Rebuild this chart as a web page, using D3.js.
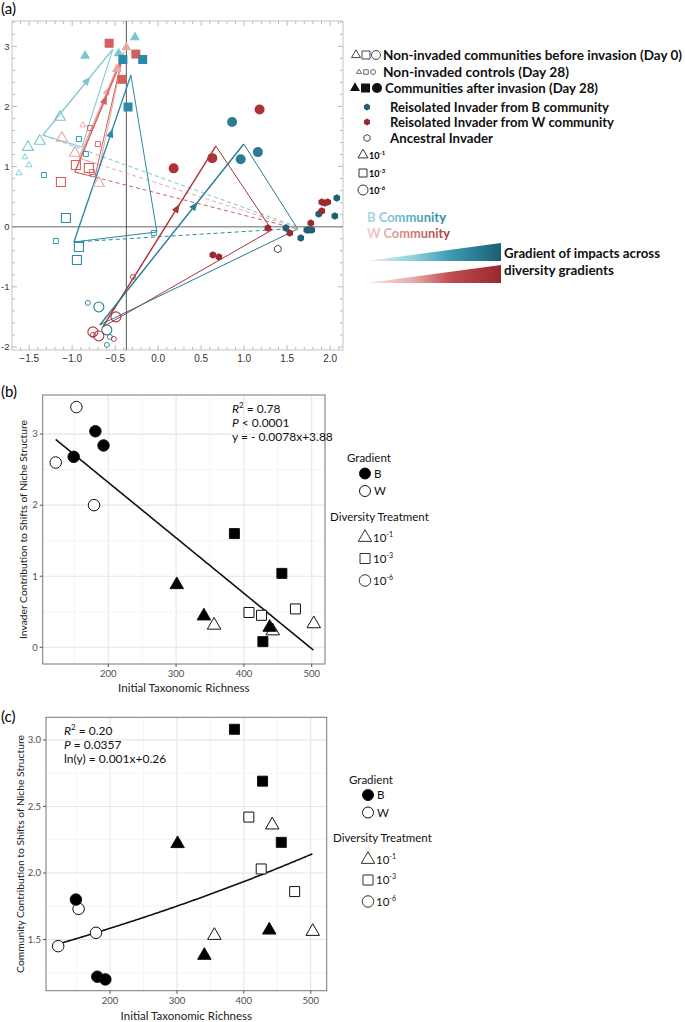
<!DOCTYPE html>
<html><head><meta charset="utf-8">
<script src="https://cdn.jsdelivr.net/npm/d3@7"></script>
<style>
body{margin:0;background:#fff;}
svg{display:block;}
text{font-family:Lato,"Liberation Sans",sans-serif;}
</style>
</head><body>
<svg id="chart" width="685" height="1022"></svg>
<script>
// ================= DATA: panel (a) =================
const groupColor = {B1:"#7cc5d3", W1:"#eba6a6", B3:"#2b8aa7", W3:"#d3605d", B6:"#2a7b93", W6:"#ad3337"};
const groupShape = {B1:"tri", W1:"tri", B3:"sq", W3:"sq", B6:"circ", W6:"circ"};
// communities after invasion (Day 28): [x, y, group]
const afterPts = [
  [-0.27,3.15,"B1"],[-0.85,2.84,"B1"],[-0.46,2.88,"B1"],
  [-0.37,2.98,"W1"],[-0.48,2.62,"W1"],
  [-0.57,3.05,"W3"],[-0.26,2.87,"W3"],[-0.42,2.45,"W3"],
  [-0.41,2.78,"B3"],[-0.18,2.78,"B3"],[-0.35,1.99,"B3"],
  [0.18,0.97,"W6"],[0.63,1.14,"W6"],[1.18,1.95,"W6"],
  [0.86,1.74,"B6"],[0.96,1.12,"B6"],[1.16,1.24,"B6"]
];
// non-invaded communities before invasion (Day 0)
const day0Pts = [
  [-1.515,1.322,"B1"],[-1.376,1.424,"B1"],[-1.143,1.822,"B1"],
  [-1.120,1.473,"W1"],[-0.969,1.224,"W1"],[-0.690,0.726,"W1"],
  [-1.073,0.144,"B3"],[-0.922,-0.337,"B3"],[-0.945,-0.553,"B3"],
  [-0.957,1.025,"W3"],[-0.806,0.975,"W3"],[-1.131,0.743,"W3"],
  [-0.690,-1.334,"B6"],[-0.597,-1.716,"B6"],
  [-0.491,-1.500,"W6"],[-0.759,-1.749,"W6"],[-0.690,-1.816,"W6"]
];
// non-invaded controls (Day 28)
const controlPts = [
  [-1.550,1.158,"B1"],[-1.503,1.025,"B1"],[-1.620,0.892,"B1"],
  [-0.876,1.689,"W1"],
  [-1.329,0.859,"B3"],[-0.922,1.457,"B3"],[-0.841,1.208,"B3"],[-1.190,-0.238,"B3"],[-0.050,-0.105,"B3"],
  [-0.794,1.640,"W3"],[-0.701,1.374,"W3"],[-0.771,0.909,"W3"],
  [-0.817,-1.267,"B6"],[-0.562,-1.832,"B6"],[-0.597,-1.965,"B6"],
  [-0.294,-0.836,"W6"],[-0.515,-1.866,"W6"],[-0.759,-1.799,"W6"]
];
const invaderB = [[1.485,-0.022],[1.659,-0.188],[1.729,-0.055],[1.752,-0.055],[1.787,-0.055],[1.868,0.211],[2.078,0.477],[2.055,0.178]];
const invaderW = [[1.276,-0.022],[1.531,-0.105],[1.775,0.061],[1.903,0.261],[1.903,0.410],[1.938,0.394],[1.973,0.410],[0.636,-0.470],[0.706,-0.503]];
const ancestral = [[1.392,-0.370]];
// shift triangles: group, start (Day 0 centroid), after centroid, third vertex
const shiftGroups = ["B1","W1","W3","B3","W6","B6"];
const shiftStart = [[-1.341,1.523],[-0.922,1.141],[-0.969,0.909],[-0.980,-0.254],[-0.643,-1.666],[-0.678,-1.634]];
const shiftAfter = [[-0.527,2.952],[-0.40,2.90],[-0.422,2.786],[-0.317,2.520],[0.671,1.341],[0.996,1.374]];
const shiftThird = [[-0.887,1.324],[-0.678,1.025],[-0.736,0.826],[-0.015,-0.088],[1.322,-0.055],[1.624,-0.038]];
const dashEnd   = [[1.624,-0.005],[1.624,-0.022],[1.624,-0.038],[1.485,-0.038],null,null];
const refLineX = -0.37, refLineY = 0;
const xTicksA = [-1.5,-1.0,-0.5,0.0,0.5,1.0,1.5,2.0];
const yTicksA = [-2,-1,0,1,2,3];
const legendA = ["Non-invaded communities before invasion (Day 0)","Non-invaded controls (Day 28)","Communities after invasion (Day 28)",
  "Reisolated Invader from B community","Reisolated Invader from W community","Ancestral Invader"];

// ================= DATA: panels (b) and (c) =================
const richness = [122.5,149,153,179,181,193,301,341,356,386,407.5,426,428,438,442.5,456,476,503];
const gradientGrp = ["W","B","W","W","B","B","B","B","W","B","W","W","B","B","W","B","W","W"];
const treatment = ["6","6","6","6","6","6","1","1","1","3","3","3","3","1","1","3","3","1"];
const invaderContrib = [2.60,2.68,3.38,2.00,3.04,2.84,0.88,0.44,0.31,1.60,0.49,0.45,0.08,0.28,0.23,1.04,0.54,0.33];
const communityContrib = [1.45,1.80,1.73,1.55,1.22,1.20,2.22,1.38,1.53,3.08,2.42,2.03,2.69,1.57,2.36,2.23,1.86,1.56];
const fitB = {slope:-0.0078, intercept:3.88};
const fitC = {slope:0.001, intercept:0.26};
const xTicksBC = [200,300,400,500];
const yTicksB = [0,1,2,3];
const yTicksC = [1.5,2.0,2.5,3.0];

// ================= DRAWING =================
const svg = d3.select("#chart");
const defs = svg.append("defs");

function symType(s){ return s==="tri"?d3.symbolTriangle: s==="sq"?d3.symbolSquare:d3.symbolCircle; }
function symArea(s,d){ return s==="tri"?0.433*d*d: s==="sq"?d*d: Math.PI*d*d/4; }
function symPath(s,d){ return d3.symbol().type(symType(s)).size(symArea(s,d))(); }
function hexPath(r){ const p=d3.range(6).map(i=>{const a=Math.PI/3*i+Math.PI/6;return [r*Math.cos(a),r*Math.sin(a)];}); return "M"+p.map(q=>q.join(",")).join("L")+"Z"; }

// ---------- Panel (a) ----------
const xA = d3.scaleLinear().domain([-1.7,2.15]).range([12,343]);
const yA = d3.scaleLinear().domain([-2.05,3.42]).range([350,21]);
const gA = svg.append("g");
const [ax0,ax1] = xA.range(), [ay1,ay0] = yA.range();
gA.append("rect").attr("x",ax0).attr("y",ay0).attr("width",ax1-ax0).attr("height",ay1-ay0)
  .attr("fill","none").attr("stroke","#c4c4c4").attr("stroke-width",1);
d3.range(-16,22).map(i=>i/10).forEach(v=>{
  const L = Math.abs(v*2-Math.round(v*2))<1e-6?5:3;
  const x = xA(v);
  gA.append("line").attr("x1",x).attr("x2",x).attr("y1",ay0).attr("y2",ay0+L).attr("stroke","#bbb");
  gA.append("line").attr("x1",x).attr("x2",x).attr("y1",ay1).attr("y2",ay1-L).attr("stroke","#bbb");
});
d3.range(-10,18).map(i=>i/5).forEach(v=>{
  const L = Math.abs(v-Math.round(v))<1e-6?5:3;
  const y = yA(v);
  gA.append("line").attr("x1",ax0).attr("x2",ax0+L).attr("y1",y).attr("y2",y).attr("stroke","#bbb");
  gA.append("line").attr("x1",ax1).attr("x2",ax1-L).attr("y1",y).attr("y2",y).attr("stroke","#bbb");
});
gA.selectAll(".xl").data(xTicksA).enter().append("text")
  .attr("x",d=>xA(d)).attr("y",ay1+12).attr("text-anchor","middle")
  .attr("font-size",10).attr("fill","#333").style("font-family","Liberation Sans")
  .text(d=>d3.format(".1f")(d).replace("-","\u2212"));
gA.selectAll(".yl").data(yTicksA).enter().append("text")
  .attr("x",ax0-2.5).attr("y",d=>yA(d)+3.5).attr("text-anchor","end")
  .attr("font-size",9.5).attr("fill","#333").style("font-family","Liberation Sans")
  .text(d=>String(d));
gA.append("line").attr("x1",ax0).attr("x2",ax1).attr("y1",yA(refLineY)).attr("y2",yA(refLineY)).attr("stroke","#9a9a9a").attr("stroke-width",1.5);
gA.append("line").attr("x1",xA(refLineX)).attr("x2",xA(refLineX)).attr("y1",ay0).attr("y2",ay1).attr("stroke","#555").attr("stroke-width",1);

shiftGroups.forEach((g,i)=>{
  if(!dashEnd[i]) return;
  gA.append("line").attr("x1",xA(shiftStart[i][0])).attr("y1",yA(shiftStart[i][1]))
    .attr("x2",xA(dashEnd[i][0])).attr("y2",yA(dashEnd[i][1]))
    .attr("stroke",groupColor[g]).attr("stroke-width",1).attr("stroke-dasharray","4,3");
});
shiftGroups.forEach((g,i)=>{
  const s=shiftStart[i], a=shiftAfter[i], t=shiftThird[i];
  const P = p=>[xA(p[0]),yA(p[1])];
  const ps=P(s), pa=P(a), pt=P(t);
  gA.append("path").attr("d",`M${pa}L${pt}L${ps}`).attr("fill","none")
    .attr("stroke",groupColor[g]).attr("stroke-width",1);
  gA.append("line").attr("x1",ps[0]).attr("y1",ps[1]).attr("x2",pa[0]).attr("y2",pa[1])
    .attr("stroke",groupColor[g]).attr("stroke-width",1.4);
  const f=0.68, mx=ps[0]+(pa[0]-ps[0])*f, my=ps[1]+(pa[1]-ps[1])*f;
  const ang=Math.atan2(pa[1]-ps[1],pa[0]-ps[0])*180/Math.PI;
  gA.append("path").attr("d","M0,0L-9,-3.6L-9,3.6Z").attr("fill",groupColor[g])
    .attr("transform",`translate(${mx},${my}) rotate(${ang})`);
});
gA.selectAll(".c28").data(controlPts).enter().append("path")
  .attr("d",d=>symPath(groupShape[d[2]], groupShape[d[2]]==="tri"?6:5))
  .attr("transform",d=>`translate(${xA(d[0])},${yA(d[1])})`)
  .attr("fill","none").attr("stroke",d=>groupColor[d[2]]).attr("stroke-width",0.9);
gA.selectAll(".d0").data(day0Pts).enter().append("path")
  .attr("d",d=>symPath(groupShape[d[2]], groupShape[d[2]]==="tri"?11:(groupShape[d[2]]==="sq"?9:10)))
  .attr("transform",d=>`translate(${xA(d[0])},${yA(d[1])})`)
  .attr("fill","none").attr("stroke",d=>groupColor[d[2]]).attr("stroke-width",1.1);
gA.selectAll(".af").data(afterPts).enter().append("path")
  .attr("d",d=>symPath(groupShape[d[2]], groupShape[d[2]]==="tri"?10:(groupShape[d[2]]==="sq"?9:10)))
  .attr("transform",d=>`translate(${xA(d[0])},${yA(d[1])})`)
  .attr("fill",d=>groupColor[d[2]]);
gA.selectAll(".ib").data(invaderB).enter().append("path").attr("d",hexPath(3.8))
  .attr("transform",d=>`translate(${xA(d[0])},${yA(d[1])})`).attr("fill","#1f6174");
gA.selectAll(".iw").data(invaderW).enter().append("path").attr("d",hexPath(3.8))
  .attr("transform",d=>`translate(${xA(d[0])},${yA(d[1])})`).attr("fill","#992b30");
gA.selectAll(".an").data(ancestral).enter().append("path").attr("d",hexPath(3.8))
  .attr("transform",d=>`translate(${xA(d[0])},${yA(d[1])})`).attr("fill","#fff").attr("stroke","#333").attr("stroke-width",0.9);

svg.append("text").attr("x",1).attr("y",14).attr("font-size",15).text("(a)");

// legend (a)
const LA = svg.append("g");
function ltext(x,y,t,size,len){ const e=LA.append("text").attr("x",x).attr("y",y+4.5).attr("font-size",size).attr("font-weight","bold").attr("fill","#111").text(t);
  if(len) e.attr("textLength",len).attr("lengthAdjust","spacingAndGlyphs"); return e; }
[["tri",356,9],["sq",366,8],["circ",376,9]].forEach(s=>LA.append("path").attr("d",symPath(s[0],s[2])).attr("transform",`translate(${s[1]},55)`).attr("fill","none").attr("stroke","#444"));
ltext(383,55,legendA[0],13.5,299);
[["tri",359,5],["sq",366,4.5],["circ",373,5]].forEach(s=>LA.append("path").attr("d",symPath(s[0],s[2])).attr("transform",`translate(${s[1]},72)`).attr("fill","none").attr("stroke","#444").attr("stroke-width",0.8));
ltext(383,72,legendA[1],13.5,186);
[["tri",355,10],["sq",365.5,9],["circ",377,10]].forEach(s=>LA.append("path").attr("d",symPath(s[0],s[2])).attr("transform",`translate(${s[1]},88)`).attr("fill","#111"));
ltext(385,88,legendA[2],13.5,213);
LA.append("path").attr("d",hexPath(3.5)).attr("transform","translate(367,107)").attr("fill","#1f6174");
ltext(390,107,legendA[3],13.5,219);
LA.append("path").attr("d",hexPath(3.5)).attr("transform","translate(367,122)").attr("fill","#992b30");
ltext(390,122,legendA[4],13.5,224);
LA.append("path").attr("d",hexPath(3.5)).attr("transform","translate(367,138)").attr("fill","#fff").attr("stroke","#333").attr("stroke-width",0.9);
ltext(390,138,legendA[5],13.5,103);
[["tri",155,"-1",10],["sq",173,"-3",8],["circ",190,"-6",10]].forEach(r=>{
  LA.append("path").attr("d",symPath(r[0],r[3])).attr("transform",`translate(363,${r[1]})`).attr("fill","none").attr("stroke","#333");
  const t=LA.append("text").attr("x",369).attr("y",r[1]+3.5).attr("font-size",9).attr("font-weight","bold").text("10");
  t.append("tspan").attr("dy",-4).attr("font-size",6).text(r[2]);
});
function lg(id,stops){ const g=defs.append("linearGradient").attr("id",id).attr("x1","0").attr("x2","1").attr("y1","0").attr("y2","0"); stops.forEach(s=>g.append("stop").attr("offset",s[0]).attr("stop-color",s[1])); }
lg("gtB",[[0,"#a9dbe4"],[0.5,"#5fb3c7"],[1,"#2a89a5"]]);
lg("gtW",[[0,"#f5cccc"],[0.5,"#d47f80"],[1,"#a83a3d"]]);
lg("gwB",[[0,"#e3f3f6"],[0.35,"#8fcfdb"],[0.62,"#3d9bb5"],[1,"#1a5f74"]]);
lg("gwW",[[0,"#fae6e6"],[0.35,"#e6a9a9"],[0.62,"#bf4c50"],[1,"#972a2e"]]);
LA.append("text").attr("x",367).attr("y",222).attr("font-size",13.5).attr("font-weight","bold").attr("fill","url(#gtB)").attr("textLength",79).attr("lengthAdjust","spacingAndGlyphs").text("B Community");
LA.append("text").attr("x",367).attr("y",238).attr("font-size",13.5).attr("font-weight","bold").attr("fill","url(#gtW)").attr("textLength",83).attr("lengthAdjust","spacingAndGlyphs").text("W Community");
LA.append("path").attr("d","M367,261L501,243L501,261Z").attr("fill","url(#gwB)");
LA.append("path").attr("d","M367,283L501,265L501,283Z").attr("fill","url(#gwW)");
ltext(504,253,"Gradient of impacts across",13,156);
ltext(504,270,"diversity gradients",13,110);

// ---------- Panels (b) & (c) ----------
function panel(o){
  const x = d3.scaleLinear().domain(o.xd).range(o.xr);
  const y = d3.scaleLinear().domain(o.yd).range(o.yr);
  const g = svg.append("g");
  const [x0,x1]=o.xr, [y1,y0]=o.yr;
  o.xMinor.forEach(v=>g.append("line").attr("x1",x(v)).attr("x2",x(v)).attr("y1",y0).attr("y2",y1).attr("stroke","#f2f2f2").attr("stroke-width",0.8));
  o.yMinor.forEach(v=>g.append("line").attr("x1",x0).attr("x2",x1).attr("y1",y(v)).attr("y2",y(v)).attr("stroke","#f2f2f2").attr("stroke-width",0.8));
  xTicksBC.forEach(v=>g.append("line").attr("x1",x(v)).attr("x2",x(v)).attr("y1",y0).attr("y2",y1).attr("stroke","#e6e6e6").attr("stroke-width",1.1));
  o.yTicks.forEach(v=>g.append("line").attr("x1",x0).attr("x2",x1).attr("y1",y(v)).attr("y2",y(v)).attr("stroke","#e6e6e6").attr("stroke-width",1.1));
  g.append("rect").attr("x",x0).attr("y",y0).attr("width",x1-x0).attr("height",y1-y0).attr("fill","none").attr("stroke","#777").attr("stroke-width",1);
  xTicksBC.forEach(v=>{
    g.append("line").attr("x1",x(v)).attr("x2",x(v)).attr("y1",y1).attr("y2",y1+3).attr("stroke","#555");
    g.append("text").attr("x",x(v)).attr("y",y1+13).attr("text-anchor","middle").attr("font-size",9.5).attr("fill","#4d4d4d").text(v);
  });
  o.yTicks.forEach(v=>{
    g.append("line").attr("x1",x0-3).attr("x2",x0).attr("y1",y(v)).attr("y2",y(v)).attr("stroke","#555");
    g.append("text").attr("x",x0-5).attr("y",y(v)+3.3).attr("text-anchor","end").attr("font-size",9.5).attr("fill","#4d4d4d").text(o.yFmt(v));
  });
  g.append("text").attr("x",(x0+x1)/2).attr("y",o.xTitleY).attr("text-anchor","middle").attr("font-size",11.5).attr("fill","#222").text("Initial Taxonomic Richness");
  g.append("text").attr("transform",`translate(${o.yTitleX},${(y0+y1)/2}) rotate(-90)`).attr("text-anchor","middle").attr("font-size",10.3).attr("fill","#222").text(o.yTitle);
  const xs = d3.range(d3.min(richness), d3.max(richness)+0.1, 2);
  g.append("path").attr("d",d3.line().x(d=>x(d)).y(d=>y(o.fit(d)))(xs)).attr("fill","none").attr("stroke","#111").attr("stroke-width",1.6);
  const idx = d3.range(richness.length);
  const shp = t=>t==="1"?"tri":t==="3"?"sq":"circ";
  const dim = t=>t==="1"?13.5:t==="3"?10:11.5;
  const order = idx.filter(i=>gradientGrp[i]==="W").concat(idx.filter(i=>gradientGrp[i]==="B"));
  g.selectAll(".pt").data(order).enter().append("path")
    .attr("d",i=>symPath(shp(treatment[i]),dim(treatment[i])))
    .attr("transform",i=>`translate(${x(richness[i])},${y(o.vals[i])})`)
    .attr("fill",i=>gradientGrp[i]==="B"?"#000":"#fff").attr("stroke","#111").attr("stroke-width",1);
  o.ann.forEach((a,k)=>{
    const t=g.append("text").attr("x",o.annX).attr("y",o.annY+k*14).attr("font-size",12).attr("fill","#111");
    a.forEach(p=>{ const s=t.append("tspan").text(p.t); if(p.i) s.attr("font-style","italic"); if(p.dy) s.attr("dy",p.dy); if(p.fs) s.attr("font-size",p.fs); });
  });
  const L=o.leg;
  g.append("text").attr("x",L.gx).attr("y",L.gy).attr("font-size",11.5).attr("fill","#111").text("Gradient");
  [["#000","B",L.b],["#fff","W",L.w]].forEach(r=>{
    g.append("path").attr("d",symPath("circ",11)).attr("transform",`translate(${L.sx},${r[2]})`).attr("fill",r[0]).attr("stroke","#111");
    g.append("text").attr("x",L.sx+9).attr("y",r[2]+4).attr("font-size",11.5).attr("fill","#111").text(r[1]);
  });
  g.append("text").attr("x",L.dx).attr("y",L.dy).attr("font-size",11.5).attr("fill","#111").text("Diversity Treatment");
  [["tri","-1",L.t1,13.5],["sq","-3",L.t3,10],["circ","-6",L.t6,11.5]].forEach(r=>{
    g.append("path").attr("d",symPath(r[0],r[3])).attr("transform",`translate(${L.sx},${r[2]})`).attr("fill","#fff").attr("stroke","#333");
    const t=g.append("text").attr("x",L.sx+8).attr("y",r[2]+4).attr("font-size",11.5).attr("fill","#111").text("10");
    t.append("tspan").attr("dy",-5).attr("font-size",7).text(r[1]);
  });
}

panel({
  xd:[103.3,519.6], xr:[42.7,325], yd:[-0.235,3.55], yr:[664,395],
  yTicks:yTicksB, yMinor:[0.5,1.5,2.5,3.5], xMinor:[150,250,350,450], yFmt:d=>d,
  vals:invaderContrib, fit:v=>fitB.slope*v+fitB.intercept,
  xTitleY:692, yTitleX:27, yTitle:"Invader Contribution to Shifts of Niche Structure",
  annX:232, annY:413,
  ann:[[{t:"R",i:1},{t:"2",dy:-5,fs:8},{t:" = 0.78",dy:5}],[{t:"P",i:1},{t:" < 0.0001"}],[{t:"y = - 0.0078x+3.88"}]],
  leg:{gx:347,gy:462,sx:365,b:473.5,w:491,dx:330,dy:521,t1:537.5,t3:558.5,t6:580.5}
});
panel({
  xd:[104.3,523.9], xr:[46,326.7], yd:[1.115,3.17], yr:[990.7,717.3],
  yTicks:yTicksC, yMinor:[1.25,1.75,2.25,2.75], xMinor:[150,250,350,450], yFmt:d3.format(".1f"),
  vals:communityContrib, fit:v=>Math.exp(fitC.slope*v+fitC.intercept),
  xTitleY:1020, yTitleX:24, yTitle:"Community Contribution to Shifts of Niche Structure",
  annX:64, annY:735,
  ann:[[{t:"R",i:1},{t:"2",dy:-5,fs:8},{t:" = 0.20",dy:5}],[{t:"P",i:1},{t:" = 0.0357"}],[{t:"ln(y) = 0.001x+0.26"}]],
  leg:{gx:349,gy:783.5,sx:368,b:795,w:812.5,dx:333,dy:842,t1:859.5,t3:880,t6:901.5}
});
svg.append("text").attr("x",1).attr("y",397).attr("font-size",15).text("(b)");
svg.append("text").attr("x",1).attr("y",722).attr("font-size",15).text("(c)");
</script>
</body></html>
